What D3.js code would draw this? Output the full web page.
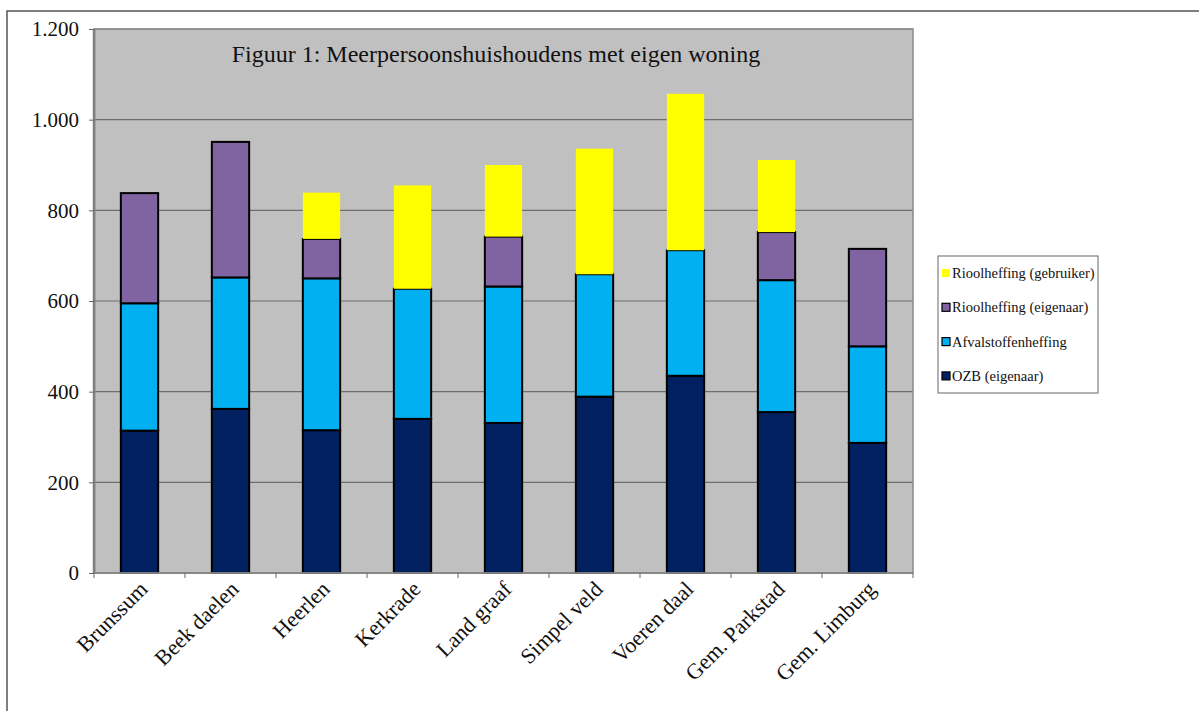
<!DOCTYPE html>
<html>
<head>
<meta charset="utf-8">
<script src="https://cdn.jsdelivr.net/npm/d3@7"></script>
<style>
  html, body { margin: 0; padding: 0; background: #fff; }
  svg { display: block; font-family: "Liberation Serif", "Times New Roman", serif; }
</style>
</head>
<body>
<svg id="chart" width="1199" height="711"></svg>
<script>
const gemeenten = ['Brunssum', 'Beek daelen', 'Heerlen', 'Kerkrade', 'Land graaf',
  'Simpel veld', 'Voeren daal', 'Gem. Parkstad', 'Gem. Limburg'];
const ozb       = [314, 362, 315, 340, 331, 389, 435, 355, 287];
const afval     = [281, 290, 335, 287, 301, 270, 277, 291, 213];
const rioolEig  = [243, 299,  87,   0, 110,   0,   0, 106, 215];
const rioolGebr = [  0,   0, 102, 228, 158, 277, 345, 159,   0];
const yTicks = [0, 200, 400, 600, 800, 1000, 1200];
const series = [
  {name: 'OZB (eigenaar)', values: ozb, color: '#002060', stroke: '#000'},
  {name: 'Afvalstoffenheffing', values: afval, color: '#00B0F0', stroke: '#000'},
  {name: 'Rioolheffing (eigenaar)', values: rioolEig, color: '#8064A2', stroke: '#000'},
  {name: 'Rioolheffing (gebruiker)', values: rioolGebr, color: '#FFFF00', stroke: 'none'}
];

const svg = d3.select('#chart');
const L = 94, R = 913, T = 29, B = 573;

// outer frame (runs off right/bottom edge like the screenshot)
svg.append('rect').attr('x', 7).attr('y', 11).attr('width', 1300).attr('height', 800)
  .attr('fill', 'none').attr('stroke', '#555').attr('stroke-width', 1.5);

const x = d3.scaleBand().domain(gemeenten).range([L, R]).paddingInner(0.59).paddingOuter(0.295);
const y = d3.scaleLinear().domain([0, 1200]).range([B, T]);

svg.append('rect').attr('x', L).attr('y', T).attr('width', R - L).attr('height', B - T)
  .attr('fill', '#C0C0C0');

// gridlines
svg.append('g').selectAll('line').data(yTicks.filter(d => d > 0)).join('line')
  .attr('x1', L).attr('x2', R).attr('y1', d => y(d)).attr('y2', d => y(d))
  .attr('stroke', '#6e6e6e').attr('stroke-width', 1.2);

// stacked bars
const rows = gemeenten.map((g, i) => {
  const r = {g};
  series.forEach(s => r[s.name] = s.values[i]);
  return r;
});
const stack = d3.stack().keys(series.map(s => s.name))(rows);
stack.forEach((layer, k) => {
  const s = series[k];
  svg.append('g').selectAll('rect').data(layer.filter(d => d[1] - d[0] > 0)).join('rect')
    .attr('x', d => x(d.data.g)).attr('width', x.bandwidth())
    .attr('y', d => y(d[1])).attr('height', d => y(d[0]) - y(d[1]))
    .attr('fill', s.color).attr('stroke', s.stroke).attr('stroke-width', 2);
});

// plot border
svg.append('rect').attr('x', L).attr('y', T).attr('width', R - L).attr('height', B - T)
  .attr('fill', 'none').attr('stroke', '#8a8a8a').attr('stroke-width', 1.5);
svg.append('line').attr('x1', L).attr('x2', L).attr('y1', T).attr('y2', B)
  .attr('stroke', '#808080').attr('stroke-width', 2.5);

// y axis
const fmt = d => d3.format(',')(d).replace(/,/g, '.');
const yAxis = svg.append('g').attr('transform', `translate(${L},0)`)
  .call(d3.axisLeft(y).tickValues(yTicks).tickFormat(fmt).tickSize(5).tickSizeOuter(0));
yAxis.select('.domain').attr('stroke', '#808080').attr('stroke-width', 1.5);
yAxis.selectAll('.tick line').attr('stroke', '#666');
yAxis.selectAll('text').attr('font-size', 21).attr('font-family', 'Liberation Serif')
  .attr('fill', '#111').attr('x', -15);

// x axis: ticks at category boundaries
const bounds = d3.range(gemeenten.length + 1).map(i => L + i * x.step());
svg.append('line').attr('x1', L).attr('x2', R).attr('y1', B).attr('y2', B)
  .attr('stroke', '#808080').attr('stroke-width', 1.5);
svg.append('g').selectAll('line').data(bounds).join('line')
  .attr('x1', d => d).attr('x2', d => d).attr('y1', B).attr('y2', B + 5)
  .attr('stroke', '#666');
svg.append('g').selectAll('text').data(gemeenten).join('text')
  .attr('transform', d => `translate(${x(d) + x.bandwidth() / 2 + 4},${B + 12}) rotate(-45)`)
  .attr('text-anchor', 'end').attr('dy', '0.35em')
  .attr('font-size', 22).attr('fill', '#111')
  .text(d => d);

// title
svg.append('text').attr('x', 496).attr('y', 62).attr('text-anchor', 'middle')
  .attr('font-size', 24).attr('fill', '#111')
  .text('Figuur 1: Meerpersoonshuishoudens met eigen woning');

// legend (reverse order, top = gebruiker)
const lg = svg.append('g');
lg.append('rect').attr('x', 938).attr('y', 256).attr('width', 160).attr('height', 137)
  .attr('fill', '#fff').attr('stroke', '#808080').attr('stroke-width', 1.2);
series.slice().reverse().forEach((s, i) => {
  const cy = 273 + i * 34.3;
  lg.append('rect').attr('x', 942).attr('y', cy - 4).attr('width', 8).attr('height', 8)
    .attr('fill', s.color).attr('stroke', s.stroke === 'none' ? 'none' : '#000').attr('stroke-width', 1.2);
  lg.append('text').attr('x', 952).attr('y', cy).attr('dy', '0.35em')
    .attr('font-size', 14.5).attr('fill', '#111').text(s.name);
});
</script>
</body>
</html>
